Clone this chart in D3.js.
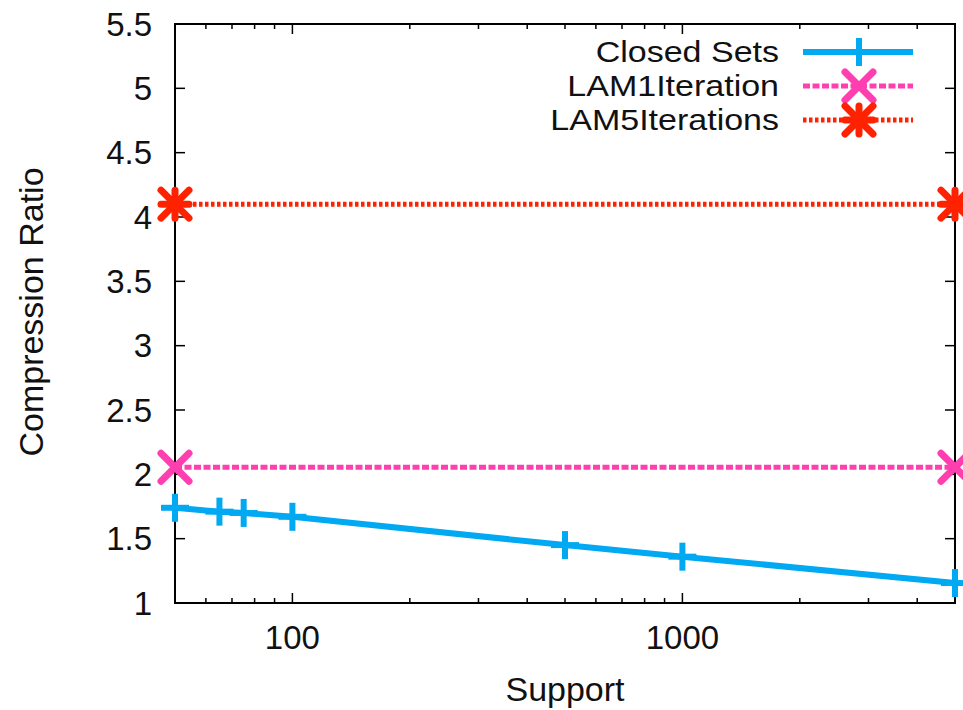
<!DOCTYPE html>
<html>
<head>
<meta charset="utf-8">
<script src="https://cdn.jsdelivr.net/npm/d3@7"></script>
<style>
  html, body { margin: 0; padding: 0; background: #fff; }
  svg { display: block; font-family: "Liberation Sans", Arial, Helvetica, sans-serif; }
</style>
</head>
<body>
<svg id="chart" width="963" height="710"></svg>
<script>
// Compression ratio against minimum support (log scale)
const closedSupport = [50, 65, 75, 100, 500, 1000, 5000];
const closedRatio   = [1.74, 1.71, 1.70, 1.67, 1.45, 1.36, 1.155];
const lam1Support = [50, 5000];
const lam1Ratio   = [2.055, 2.055];
const lam5Support = [50, 5000];
const lam5Ratio   = [4.10, 4.10];

const seriesNames = ["Closed Sets", "LAM1Iteration", "LAM5Iterations"];
const yTicks = [1, 1.5, 2, 2.5, 3, 3.5, 4, 4.5, 5, 5.5];
const xMajorTicks = [100, 1000];
const xMinorTicks = [60, 70, 80, 90, 200, 300, 400, 500, 600, 700, 800, 900, 2000, 3000, 4000];

const svg = d3.select("#chart");
const margin = { left: 175, right: 8, top: 24, bottom: 107 };
const W = 963, H = 710;
const x0 = margin.left, x1 = W - margin.right, y0 = H - margin.bottom, y1 = margin.top;

const x = d3.scaleLog().domain([50, 5000]).range([x0, x1]);
const y = d3.scaleLinear().domain([1, 5.5]).range([y0, y1]);

const fontSize = 33;

// Ticks on all four sides, pointing inwards
const ticks = svg.append("g").attr("stroke", "#000").attr("stroke-width", 1.5);
yTicks.forEach(v => {
  ticks.append("line").attr("x1", x0).attr("x2", x0 + 10).attr("y1", y(v)).attr("y2", y(v));
  ticks.append("line").attr("x1", x1).attr("x2", x1 - 10).attr("y1", y(v)).attr("y2", y(v));
});
xMajorTicks.forEach(v => {
  ticks.append("line").attr("x1", x(v)).attr("x2", x(v)).attr("y1", y0).attr("y2", y0 - 10);
  ticks.append("line").attr("x1", x(v)).attr("x2", x(v)).attr("y1", y1).attr("y2", y1 + 10);
});
xMinorTicks.forEach(v => {
  ticks.append("line").attr("x1", x(v)).attr("x2", x(v)).attr("y1", y0).attr("y2", y0 - 5);
  ticks.append("line").attr("x1", x(v)).attr("x2", x(v)).attr("y1", y1).attr("y2", y1 + 5);
});

// Tick labels
const labels = svg.append("g").attr("fill", "#111").attr("font-size", fontSize);
yTicks.forEach(v => {
  labels.append("text").attr("x", x0 - 23).attr("y", y(v)).attr("dy", "0.35em")
    .attr("text-anchor", "end").text(d3.format("~g")(v));
});
xMajorTicks.forEach(v => {
  labels.append("text").attr("x", x(v)).attr("y", y0 + 46)
    .attr("text-anchor", "middle").text(v);
});

// Axis titles
svg.append("text").attr("font-size", 34).attr("fill", "#111")
  .attr("text-anchor", "middle")
  .attr("transform", `translate(43,312) rotate(-90)`)
  .text("Compression Ratio");
svg.append("text").attr("font-size", 34).attr("fill", "#111")
  .attr("text-anchor", "middle").attr("x", 565).attr("y", 701)
  .text("Support");

// Frame
svg.append("rect").attr("x", x0).attr("y", y1).attr("width", x1 - x0).attr("height", y0 - y1)
  .attr("fill", "none").attr("stroke", "#000").attr("stroke-width", 2);

const styles = [
  { color: "#00a9f2", dash: null, width: 6, marker: "plus" },
  { color: "#ff3fb0", dash: "7,2.5", width: 5, marker: "cross" },
  { color: "#ff2200", dash: "3.5,2.5", width: 5, marker: "star" }
];

function drawMarker(g, type, cx, cy, color) {
  const s = 14, c = 14;
  const segs = [];
  if (type === "plus" || type === "star") {
    segs.push([cx - s, cy, cx + s, cy], [cx, cy - s, cx, cy + s]);
  }
  if (type === "cross" || type === "star") {
    segs.push([cx - c, cy - c, cx + c, cy + c], [cx - c, cy + c, cx + c, cy - c]);
  }
  segs.forEach(([a, b, c2, d]) => {
    g.append("line").attr("x1", a).attr("y1", b).attr("x2", c2).attr("y2", d)
      .attr("stroke", color).attr("stroke-width", type === "plus" ? 6 : 7)
      .attr("stroke-linecap", type === "plus" ? "butt" : "round");
  });
}

const seriesData = [
  closedSupport.map((s, i) => [s, closedRatio[i]]),
  lam1Support.map((s, i) => [s, lam1Ratio[i]]),
  lam5Support.map((s, i) => [s, lam5Ratio[i]])
];

const line = d3.line().x(d => x(d[0])).y(d => y(d[1]));

seriesData.forEach((data, i) => {
  const st = styles[i];
  const g = svg.append("g");
  g.append("path").attr("d", line(data)).attr("fill", "none")
    .attr("stroke", st.color).attr("stroke-width", st.width)
    .attr("stroke-dasharray", st.dash);
  data.forEach(d => drawMarker(g, st.marker, x(d[0]), y(d[1]), st.color));
});

// Legend: rows are tight, so the labels use a slightly smaller size
// stretched horizontally to keep their width.
const legend = svg.append("g");
const legX = 779, legL1 = 803, legL2 = 913, legRows = [52, 86, 120];
const legFont = 29.5, legStretch = 34 / 29.5;
seriesNames.forEach((name, i) => {
  const st = styles[i];
  const yy = legRows[i];
  const t = legend.append("text").attr("x", legX).attr("y", yy).attr("dy", "0.35em")
    .attr("text-anchor", "end").attr("font-size", legFont).attr("fill", "#111").text(name);
  const w = t.node().getComputedTextLength();
  t.attr("textLength", w * legStretch).attr("lengthAdjust", "spacingAndGlyphs");
  legend.append("line").attr("x1", legL1).attr("x2", legL2).attr("y1", yy).attr("y2", yy)
    .attr("stroke", st.color).attr("stroke-width", st.width).attr("stroke-dasharray", st.dash);
  drawMarker(legend, st.marker, (legL1 + legL2) / 2 + 1, yy, st.color);
});
</script>
</body>
</html>
